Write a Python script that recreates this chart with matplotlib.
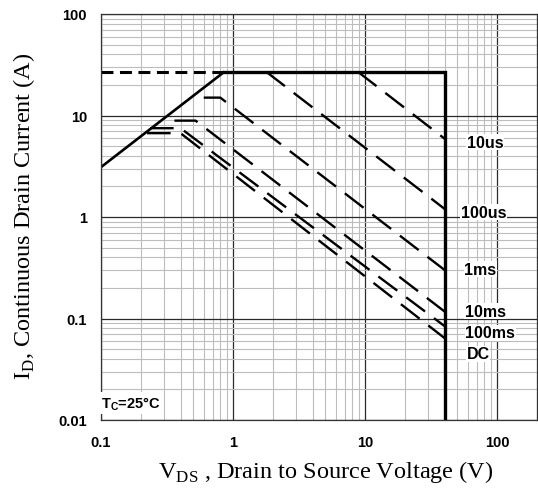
import matplotlib
matplotlib.use("Agg")
import matplotlib.pyplot as plt
from matplotlib.ticker import LogLocator, NullFormatter

plt.rcParams['lines.scale_dashes'] = False
plt.rcParams['mathtext.fontset'] = 'custom'
plt.rcParams['mathtext.rm'] = 'Liberation Serif'
plt.rcParams['mathtext.bf'] = 'Liberation Sans:bold'

# axis ticks
x_ticks = [0.1, 1, 10, 100]
x_tick_labels = ['0.1', '1', '10', '100']
y_ticks = [0.01, 0.1, 1, 10, 100]
y_tick_labels = ['0.01', '0.1', '1', '10', '100']

# RDS(on) limit and package/voltage limits
rds_v = [0.1, 0.86]
rds_i = [3.1, 27]
cur_limit_v = [0.1, 0.86]
cur_limit_i = [27, 27]
bound_v = [0.86, 40, 40]
bound_i = [27, 27, 0.01]

# pulse curves
pulse_names = ['10us', '100us', '1ms', '10ms', '100ms', 'DC']
pulse_v = [
    [8.8, 40],
    [1.78, 40],
    [0.6, 0.8, 40],
    [0.36, 0.52, 40],
    [0.235, 0.40, 40],
    [0.223, 0.40, 40],
]
pulse_i = [
    [27, 5.9],
    [27, 1.2],
    [15, 15, 0.30],
    [8.9, 8.9, 0.117],
    [7.5, 7.5, 0.084],
    [6.7, 6.7, 0.064],
]
# label anchor points (V, A)
label_v = [81, 78.6, 74.5, 81, 88.5, 71.8]
label_i = [5.48, 1.12, 0.307, 0.1185, 0.072, 0.0447]

fig = plt.figure(figsize=(5.38, 4.89), dpi=100)
ax = fig.add_axes([101 / 538, 68 / 489, 436 / 538, 406 / 489])
ax.set_xscale('log')
ax.set_yscale('log')
ax.set_xlim(0.1, 200)
ax.set_ylim(0.01, 100)

ax.xaxis.set_minor_locator(LogLocator(base=10, subs=range(2, 10)))
ax.yaxis.set_minor_locator(LogLocator(base=10, subs=range(2, 10)))
ax.xaxis.set_minor_formatter(NullFormatter())
ax.yaxis.set_minor_formatter(NullFormatter())
ax.set_xticks(x_ticks, x_tick_labels)
ax.set_yticks(y_ticks, y_tick_labels)
ax.grid(which='minor', color='#bdbdbd', lw=0.8)
ax.grid(which='major', color='#2a2a2a', lw=0.9)
ax.set_axisbelow(True)
ax.tick_params(which='both', length=0)
ax.tick_params(axis='x', pad=11)
ax.tick_params(axis='y', pad=10)
for lab in ax.get_xticklabels() + ax.get_yticklabels():
    lab.set_fontfamily('Liberation Sans')
    lab.set_fontweight('bold')
    lab.set_fontsize(10.5)
for sp in ax.spines.values():
    sp.set_color('#333333')
    sp.set_linewidth(0.9)

ax.plot(rds_v, rds_i, color='black', lw=1.9, solid_capstyle='butt')
ax.plot(cur_limit_v, cur_limit_i, color='black', lw=2.2, dashes=(8.6, 4.7))
ax.plot(bound_v, bound_i, color='black', lw=2.4, solid_joinstyle='miter')

for v, i in zip(pulse_v, pulse_i):
    ax.plot(v, i, color='black', lw=1.7, dashes=(17, 8),
            solid_joinstyle='round', dash_joinstyle='round')

for name, v, i in zip(pulse_names, label_v, label_i):
    ax.text(v, i, name, ha='center', va='center', fontsize=11.5,
            fontweight='bold', family='Liberation Sans',
            bbox=dict(facecolor='white', edgecolor='none', pad=0.5))

ax.text(0.0, 0.042, r'T$_\mathbf{C}$=25°C', transform=ax.transAxes,
        ha='left', va='center', fontsize=10.5, fontweight='bold',
        family='Liberation Sans',
        bbox=dict(facecolor='white', edgecolor='none', pad=1.5))

fig.text(326 / 538, 1 - 472 / 489, r'V$_{\rm DS}$ , Drain to Source Voltage (V)',
         ha='center', va='center', fontsize=17.5, family='Liberation Serif')
fig.text(24 / 538, 1 - 216 / 489, r'I$_{\rm D}$, Continuous Drain Current (A)',
         ha='center', va='center', rotation=90, fontsize=17.5,
         family='Liberation Serif')

fig.savefig('out.png', dpi=100)
